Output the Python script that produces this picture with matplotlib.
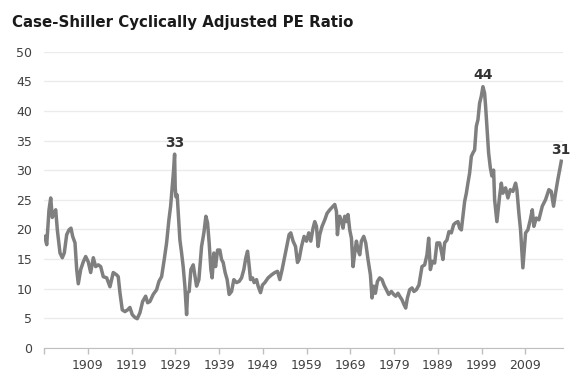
import matplotlib
matplotlib.use("Agg")
import matplotlib.pyplot as plt

# Cyclically adjusted PE
years = [
    1899.16, 1899.62, 1900.14, 1900.53, 1900.89, 1901.35, 1901.67, 1902.04, 1902.65, 1903.18,
    1903.63, 1904.18, 1904.71, 1905.16, 1905.55, 1906.08, 1906.47, 1906.83, 1907.38, 1907.97,
    1908.52, 1909.11, 1909.66, 1910.26, 1910.80, 1911.40, 1911.95, 1912.54, 1913.32, 1914.07,
    1914.82, 1915.60, 1915.96, 1916.35, 1916.88, 1917.49, 1918.11, 1918.63, 1919.16, 1919.78,
    1920.30, 1920.92, 1921.53, 1922.22, 1922.68, 1923.20, 1923.95, 1924.73, 1925.26, 1925.87,
    1926.47, 1927.01, 1927.54, 1927.93, 1928.29, 1928.61, 1928.84, 1928.98, 1929.14, 1929.43,
    1929.75, 1930.05, 1930.44, 1930.80, 1931.19, 1931.58, 1931.81, 1932.17, 1932.56, 1933.09,
    1933.86, 1934.39, 1935.00, 1935.53, 1935.99, 1936.37, 1936.74, 1937.13, 1937.42, 1937.81,
    1938.20, 1938.66, 1939.18, 1939.57, 1939.94, 1940.39, 1940.85, 1941.31, 1941.85, 1942.38,
    1943.00, 1943.59, 1944.14, 1944.66, 1945.12, 1945.51, 1945.80, 1946.19, 1946.65, 1947.01,
    1947.56, 1947.93, 1948.47, 1948.93, 1949.46, 1950.21, 1950.99, 1951.74, 1952.36, 1952.88,
    1953.41, 1954.02, 1954.55, 1955.00, 1955.39, 1955.92, 1956.47, 1956.92, 1957.29, 1957.84,
    1958.43, 1958.98, 1959.50, 1959.96, 1960.48, 1960.87, 1961.26, 1961.63, 1962.01, 1962.54,
    1963.16, 1963.68, 1964.30, 1965.05, 1965.44, 1965.83, 1966.05, 1966.42, 1966.58, 1966.97,
    1967.33, 1967.72, 1968.11, 1968.47, 1968.86, 1969.25, 1969.62, 1970.00, 1970.39, 1970.76,
    1971.15, 1971.53, 1972.06, 1972.52, 1973.04, 1973.59, 1973.95, 1974.34, 1974.73, 1975.19,
    1975.71, 1976.24, 1976.69, 1977.24, 1977.77, 1978.38, 1978.91, 1979.37, 1979.89, 1980.28,
    1980.80, 1981.26, 1981.65, 1982.04, 1982.56, 1983.09, 1983.54, 1984.09, 1984.68, 1985.37,
    1985.99, 1986.51, 1986.90, 1987.29, 1987.74, 1988.27, 1988.79, 1989.41, 1989.80, 1990.16,
    1990.55, 1991.08, 1991.53, 1992.08, 1992.61, 1993.06, 1993.59, 1993.98, 1994.37, 1994.73,
    1995.12, 1995.51, 1995.87, 1996.26, 1996.65, 1997.01, 1997.40, 1997.79, 1998.16, 1998.54,
    1998.93, 1999.30, 1999.68, 1999.91, 2000.21, 2000.60, 2000.99, 2001.35, 2001.74, 2001.97,
    2002.49, 2003.11, 2003.50, 2003.86, 2004.48, 2005.01, 2005.55, 2006.15, 2006.76, 2007.06,
    2007.52, 2007.90, 2008.43, 2009.05, 2009.57, 2010.12, 2010.58, 2010.94, 2011.49, 2012.08,
    2012.86, 2013.61, 2014.37, 2014.91, 2015.44, 2015.89, 2016.42, 2016.97, 2017.20,
]
cape = [
    18.8, 17.4, 23.3, 25.3, 22.0, 22.8, 23.3, 19.9, 16.0, 15.2,
    16.0, 19.1, 19.9, 20.2, 18.8, 17.7, 13.2, 10.8, 13.2, 14.5,
    15.4, 14.5, 12.7, 15.2, 13.7, 14.0, 13.7, 12.0, 11.8, 10.3,
    12.7, 12.3, 12.0, 9.3, 6.4, 6.1, 6.4, 6.8, 5.6, 5.1,
    4.9, 5.9, 7.8, 8.7, 7.6, 7.8, 9.0, 9.8, 11.2, 12.0,
    14.9, 17.7, 21.6, 23.9, 27.2, 30.0, 32.7, 27.0, 25.5, 25.8,
    22.0, 18.2, 16.0, 13.7, 10.4, 5.6, 9.3, 9.5, 13.2, 14.0,
    10.4, 11.5, 17.1, 19.4, 22.2, 21.1, 17.7, 13.2, 11.8, 16.0,
    13.7, 16.5, 16.5, 14.9, 14.4, 12.7, 11.5, 9.0, 9.5, 11.5,
    11.0, 11.2, 11.8, 13.2, 15.2, 16.3, 14.4, 11.5, 11.8, 11.0,
    11.5, 10.4, 9.3, 10.6, 11.0, 11.8, 12.3, 12.7, 12.9, 11.5,
    13.2, 15.4, 17.4, 19.1, 19.4, 18.0, 17.1, 14.4, 14.9, 17.1,
    18.8, 18.0, 19.4, 18.0, 20.2, 21.3, 20.5, 17.1, 19.1, 20.5,
    21.6, 22.7, 23.3, 23.9, 24.2, 23.0, 19.1, 21.9, 22.2, 21.3,
    20.2, 22.2, 21.3, 22.5, 19.9, 18.5, 13.7, 16.0, 18.0, 16.5,
    15.7, 18.0, 18.8, 17.7, 14.9, 12.3, 8.4, 10.4, 9.2, 11.2,
    11.8, 11.5, 10.6, 9.8, 9.0, 9.5, 9.0, 8.7, 9.2, 8.7,
    8.1, 7.3, 6.7, 8.4, 9.8, 10.1, 9.5, 9.8, 10.6, 13.7,
    14.0, 15.7, 18.5, 13.2, 14.6, 14.3, 17.7, 17.7, 16.3, 14.9,
    17.7, 18.2, 19.6, 19.4, 20.8, 21.1, 21.3, 20.2, 19.9, 22.2,
    24.7, 26.1, 27.8, 29.5, 32.3, 32.9, 33.4, 37.4, 38.5, 41.3,
    42.5, 44.1, 43.0, 40.8, 37.4, 32.9, 30.4, 29.0, 30.0, 25.0,
    21.3, 25.6, 27.8, 26.1, 27.0, 25.3, 26.7, 26.4, 27.8, 26.7,
    22.7, 19.9, 13.5, 19.4, 19.9, 21.6, 23.3, 20.5, 21.9, 21.6,
    23.9, 25.0, 26.7, 26.4, 23.9, 26.1, 28.4, 30.6, 31.5,
]

tick_years = [1909, 1919, 1929, 1939, 1949, 1959, 1969, 1979, 1989, 1999, 2009]
callouts = [(1928.84, 32.7, "33"), (1999.30, 44.1, "44"), (2017.20, 31.5, "31")]

fig = plt.figure(figsize=(5.8, 3.86), dpi=100)
ax = fig.add_axes([0.0759, 0.0992, 0.8948, 0.7668])

ax.plot(years, cape, color="#7f7f7f", linewidth=2.5, solid_joinstyle="round")

ax.set_xlim(1899, 2017.6)
ax.set_ylim(0, 50)
ax.set_yticks(range(0, 51, 5))
ax.set_xticks([1899] + tick_years)
ax.set_xticklabels([""] + [str(y) for y in tick_years])

ax.grid(axis="y", color="#ebebeb", linewidth=1)
ax.set_axisbelow(True)
for side in ["left", "right", "top"]:
    ax.spines[side].set_visible(False)
ax.spines["bottom"].set_color("#bfbfbf")
ax.tick_params(axis="x", colors="#bfbfbf", length=4, width=1, labelcolor="#404040",
               labelsize=9, pad=4)
ax.tick_params(axis="y", length=0, labelcolor="#404040", labelsize=9, pad=8.5)

for x, y, label in callouts:
    ax.annotate(label, (x, y), xytext=(0, 3), textcoords="offset points",
                ha="center", va="bottom", fontsize=10, fontweight="bold", color="#333333")

fig.text(0.02, 0.943, "Case-Shiller Cyclically Adjusted PE Ratio", fontsize=10.8,
         fontweight="bold", color="#1a1a1a", ha="left", va="center")

fig.savefig("out.png", dpi=100)
